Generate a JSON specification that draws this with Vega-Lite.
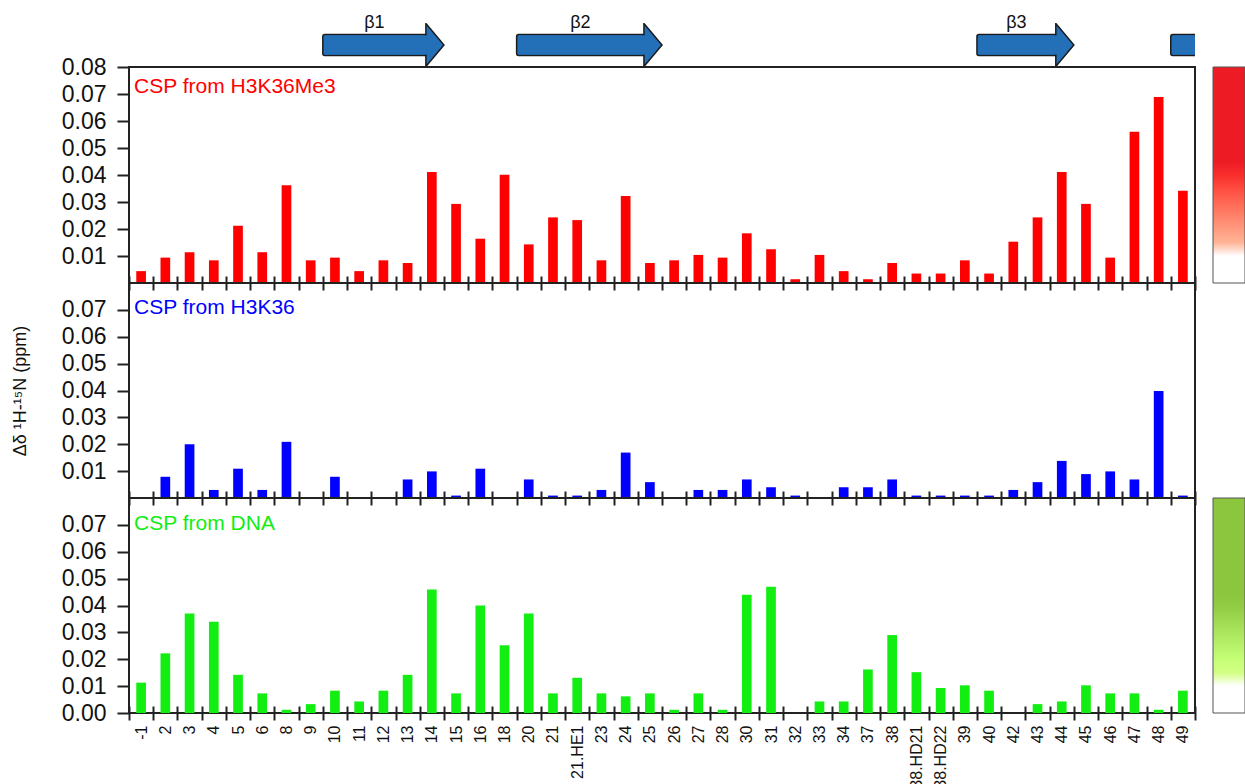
{
  "$schema": "https://vega.github.io/schema/vega-lite/v6.json",
  "padding": {"left": 10, "top": 14, "right": 0, "bottom": 0},
  "background": "white",
  "config": {
    "font": "Liberation Sans",
    "view": {"stroke": "#222222", "strokeWidth": 2},
    "axis": {"labelFont": "Liberation Sans", "titleFont": "Liberation Sans", "labelColor": "#111111", "titleColor": "#111111", "tickColor": "#222222", "grid": false}
  },
  "datasets": {
    "csp": [
      {"residue": "-1", "me3": 0.0044, "k36": 0, "dna": 0.0113},
      {"residue": "2", "me3": 0.0094, "k36": 0.0079, "dna": 0.0222},
      {"residue": "3", "me3": 0.0114, "k36": 0.02, "dna": 0.037},
      {"residue": "4", "me3": 0.0084, "k36": 0.003, "dna": 0.034},
      {"residue": "5", "me3": 0.0212, "k36": 0.0109, "dna": 0.0142},
      {"residue": "6", "me3": 0.0114, "k36": 0.003, "dna": 0.0073},
      {"residue": "8", "me3": 0.0362, "k36": 0.0209, "dna": 0.0012},
      {"residue": "9", "me3": 0.0084, "k36": 0, "dna": 0.0033},
      {"residue": "10", "me3": 0.0094, "k36": 0.0079, "dna": 0.0083},
      {"residue": "11", "me3": 0.0044, "k36": 0, "dna": 0.0043},
      {"residue": "12", "me3": 0.0084, "k36": 0, "dna": 0.0083},
      {"residue": "13", "me3": 0.0074, "k36": 0.0069, "dna": 0.0142},
      {"residue": "14", "me3": 0.0411, "k36": 0.0099, "dna": 0.046},
      {"residue": "15", "me3": 0.0293, "k36": 0.0009, "dna": 0.0073},
      {"residue": "16", "me3": 0.0164, "k36": 0.0109, "dna": 0.04},
      {"residue": "18", "me3": 0.0401, "k36": 0, "dna": 0.0252},
      {"residue": "20", "me3": 0.0143, "k36": 0.0069, "dna": 0.037},
      {"residue": "21", "me3": 0.0243, "k36": 0.0009, "dna": 0.0073},
      {"residue": "21.HE1", "me3": 0.0233, "k36": 0.0009, "dna": 0.0131},
      {"residue": "23", "me3": 0.0084, "k36": 0.003, "dna": 0.0073},
      {"residue": "24", "me3": 0.0322, "k36": 0.0169, "dna": 0.0062},
      {"residue": "25", "me3": 0.0074, "k36": 0.0059, "dna": 0.0073},
      {"residue": "26", "me3": 0.0084, "k36": 0, "dna": 0.0012},
      {"residue": "27", "me3": 0.0104, "k36": 0.003, "dna": 0.0073},
      {"residue": "28", "me3": 0.0094, "k36": 0.003, "dna": 0.0012},
      {"residue": "30", "me3": 0.0184, "k36": 0.0069, "dna": 0.044},
      {"residue": "31", "me3": 0.0125, "k36": 0.004, "dna": 0.047},
      {"residue": "32", "me3": 0.0014, "k36": 0.0009, "dna": 0},
      {"residue": "33", "me3": 0.0104, "k36": 0, "dna": 0.0043},
      {"residue": "34", "me3": 0.0044, "k36": 0.004, "dna": 0.0043},
      {"residue": "37", "me3": 0.0014, "k36": 0.004, "dna": 0.0162},
      {"residue": "38", "me3": 0.0074, "k36": 0.0069, "dna": 0.029},
      {"residue": "38.HD21", "me3": 0.0035, "k36": 0.0009, "dna": 0.0152},
      {"residue": "38.HD22", "me3": 0.0035, "k36": 0.0009, "dna": 0.0093},
      {"residue": "39", "me3": 0.0084, "k36": 0.0009, "dna": 0.0103},
      {"residue": "40", "me3": 0.0035, "k36": 0.0009, "dna": 0.0083},
      {"residue": "42", "me3": 0.0153, "k36": 0.003, "dna": 0},
      {"residue": "43", "me3": 0.0243, "k36": 0.0059, "dna": 0.0033},
      {"residue": "44", "me3": 0.0411, "k36": 0.0138, "dna": 0.0043},
      {"residue": "45", "me3": 0.0293, "k36": 0.0089, "dna": 0.0103},
      {"residue": "46", "me3": 0.0094, "k36": 0.0099, "dna": 0.0073},
      {"residue": "47", "me3": 0.056, "k36": 0.0069, "dna": 0.0073},
      {"residue": "48", "me3": 0.0689, "k36": 0.0398, "dna": 0.0012},
      {"residue": "49", "me3": 0.0342, "k36": 0.0009, "dna": 0.0083}
    ],
    "strands": [
      {"strand": "β1", "start": 8, "end": 13},
      {"strand": "β2", "start": 16, "end": 22},
      {"strand": "β3", "start": 35, "end": 39},
      {"strand": "β4", "start": 43, "end": 48}
    ]
  },
  "spacing": 0,
  "bounds": "flush",
  "resolve": {"scale": {"x": "independent", "y": "independent", "color": "independent"}},
  "vconcat": [
    {
      "width": 1066,
      "height": 44,
      "view": {"stroke": null},
      "data": {"name": "strands"},
      "layer": [
        {
          "mark": {"type": "rect", "x2Offset": -16, "fill": "#2370b8", "stroke": "#1b1b1b", "strokeWidth": 1.5, "cornerRadius": 2, "clip": true},
          "encoding": {
            "x": {"field": "start", "type": "quantitative", "scale": {"domain": [0, 44], "nice": false, "zero": false}, "axis": null},
            "x2": {"field": "end"},
            "y": {"datum": -0.477, "type": "quantitative", "scale": {"domain": [-1, 1], "nice": false}, "axis": null},
            "y2": {"datum": 0.477}
          }
        },
        {
          "mark": {"type": "point", "shape": "M-0.84,-1L0,0L-0.84,1Z", "size": 1849, "filled": true, "fill": "#2370b8", "stroke": "#1b1b1b", "strokeWidth": 1.5, "opacity": 1, "clip": true},
          "encoding": {
            "x": {"field": "end", "type": "quantitative", "axis": null},
            "y": {"datum": 0, "type": "quantitative", "axis": null}
          }
        },
        {
          "mark": {"type": "rect", "xOffset": 2, "x2Offset": -12, "fill": "#2370b8", "clip": true},
          "encoding": {
            "x": {"field": "start", "type": "quantitative", "axis": null},
            "x2": {"field": "end"},
            "y": {"datum": -0.43, "type": "quantitative", "axis": null},
            "y2": {"datum": 0.43}
          }
        },
        {
          "transform": [
            {"filter": {"field": "end", "lte": 44}},
            {"fold": ["start", "end"], "as": ["edge", "pos"]}
          ],
          "mark": {"type": "text", "fontSize": 18, "dx": -9, "dy": 5, "baseline": "alphabetic", "align": "center", "color": "#111111"},
          "encoding": {
            "x": {"field": "pos", "aggregate": "mean", "type": "quantitative", "axis": null},
            "y": {"datum": 1, "type": "quantitative", "axis": null},
            "text": {"field": "strand"}
          }
        }
      ]
    },
    {
      "width": 1066,
      "height": 216,
      "layer": [
        {
          "data": {"name": "csp"},
          "mark": {"type": "bar", "color": "#ff0000", "width": {"band": 0.4}},
          "encoding": {
            "x": {"field": "residue", "type": "ordinal", "sort": null, "scale": {"paddingInner": 0, "paddingOuter": 0},
                  "axis": {"title": null, "labels": false, "tickBand": "extent", "domain": false, "offset": -7, "tickSize": 14, "tickWidth": 2}},
            "y": {"field": "me3", "type": "quantitative", "scale": {"domain": [0, 0.08], "nice": false},
                  "axis": {"title": null, "values": [0.01, 0.02, 0.03, 0.04, 0.05, 0.06, 0.07, 0.08], "tickCount": 12, "format": ".2f", "domain": false, "tickSize": 12, "tickWidth": 2, "labelFontSize": 23, "labelPadding": 11, "labelFlush": false, "labelOverlap": false}}
          }
        },
        {
          "data": {"name": "csp"},
          "mark": {"type": "bar", "opacity": 0, "width": {"band": 0.4}},
          "encoding": {
            "x": {"field": "residue", "type": "ordinal", "sort": null},
            "y": {"field": "me3", "type": "quantitative"},
            "color": {"field": "me3", "type": "quantitative",
                      "scale": {"domain": [0, 0.0136, 0.042, 0.08], "range": ["#ffffff", "#ffffff", "#ed1c24", "#ed1c24"]},
                      "legend": {"title": null, "labelExpr": "''", "labelFontSize": 1, "labelOffset": 0, "orient": "right", "direction": "vertical", "gradientLength": 216, "gradientThickness": 32, "gradientStrokeColor": "#555555", "gradientStrokeWidth": 1, "offset": 18, "padding": 0}}
          }
        },
        {
          "data": {"values": [{"label": "CSP from H3K36Me3"}]},
          "mark": {"type": "text", "align": "left", "baseline": "alphabetic", "fontSize": 21, "dx": -7, "dy": 26, "color": "#ff0000"},
          "encoding": {
            "x": {"datum": "-1", "type": "ordinal"},
            "y": {"datum": 0.08, "type": "quantitative"},
            "text": {"field": "label"}
          }
        }
      ]
    },
    {
      "width": 1066,
      "height": 215,
      "layer": [
        {
          "data": {"name": "csp"},
          "mark": {"type": "bar", "color": "#0000ff", "width": {"band": 0.4}},
          "encoding": {
            "x": {"field": "residue", "type": "ordinal", "sort": null, "scale": {"paddingInner": 0, "paddingOuter": 0},
                  "axis": {"title": null, "labels": false, "tickBand": "extent", "domain": false, "offset": -7, "tickSize": 14, "tickWidth": 2}},
            "y": {"field": "k36", "type": "quantitative", "scale": {"domain": [0, 0.08], "nice": false},
                  "axis": {"title": "Δδ ¹H-¹⁵N (ppm)", "titleFontSize": 18, "titleFontWeight": "normal", "titlePadding": 32, "values": [0.01, 0.02, 0.03, 0.04, 0.05, 0.06, 0.07], "tickCount": 12, "format": ".2f", "domain": false, "tickSize": 12, "tickWidth": 2, "labelFontSize": 23, "labelPadding": 11, "labelFlush": false, "labelOverlap": false}}
          }
        },
        {
          "data": {"values": [{"label": "CSP from H3K36"}]},
          "mark": {"type": "text", "align": "left", "baseline": "alphabetic", "fontSize": 21, "dx": -7, "dy": 31, "color": "#0000ff"},
          "encoding": {
            "x": {"datum": "-1", "type": "ordinal"},
            "y": {"datum": 0.08, "type": "quantitative"},
            "text": {"field": "label"}
          }
        }
      ]
    },
    {
      "width": 1066,
      "height": 215,
      "layer": [
        {
          "data": {"name": "csp"},
          "mark": {"type": "bar", "color": "#12ee12", "width": {"band": 0.4}},
          "encoding": {
            "x": {"field": "residue", "type": "ordinal", "sort": null, "scale": {"paddingInner": 0, "paddingOuter": 0},
                  "axis": {"title": null, "tickBand": "extent", "domain": false, "offset": -7, "tickSize": 14, "tickWidth": 2, "labelAngle": -90, "labelFontSize": 16, "labelPadding": 5, "labelOverlap": false}},
            "y": {"field": "dna", "type": "quantitative", "scale": {"domain": [0, 0.08], "nice": false},
                  "axis": {"title": null, "values": [0, 0.01, 0.02, 0.03, 0.04, 0.05, 0.06, 0.07], "tickCount": 12, "format": ".2f", "domain": false, "tickSize": 12, "tickWidth": 2, "labelFontSize": 23, "labelPadding": 11, "labelFlush": false, "labelOverlap": false}}
          }
        },
        {
          "data": {"name": "csp"},
          "mark": {"type": "bar", "opacity": 0, "width": {"band": 0.4}},
          "encoding": {
            "x": {"field": "residue", "type": "ordinal", "sort": null},
            "y": {"field": "dna", "type": "quantitative"},
            "color": {"field": "dna", "type": "quantitative",
                      "scale": {"domain": [0, 0.0136, 0.042, 0.08], "range": ["#ffffff", "#ffffff", "#8cc63f", "#8cc63f"]},
                      "legend": {"title": null, "labelExpr": "''", "labelFontSize": 1, "labelOffset": 0, "orient": "right", "direction": "vertical", "gradientLength": 215, "gradientThickness": 32, "gradientStrokeColor": "#555555", "gradientStrokeWidth": 1, "offset": 18, "padding": 0}}
          }
        },
        {
          "data": {"values": [{"label": "CSP from DNA"}]},
          "mark": {"type": "text", "align": "left", "baseline": "alphabetic", "fontSize": 21, "dx": -7, "dy": 32, "color": "#12ee12"},
          "encoding": {
            "x": {"datum": "-1", "type": "ordinal"},
            "y": {"datum": 0.08, "type": "quantitative"},
            "text": {"field": "label"}
          }
        }
      ]
    }
  ]
}
